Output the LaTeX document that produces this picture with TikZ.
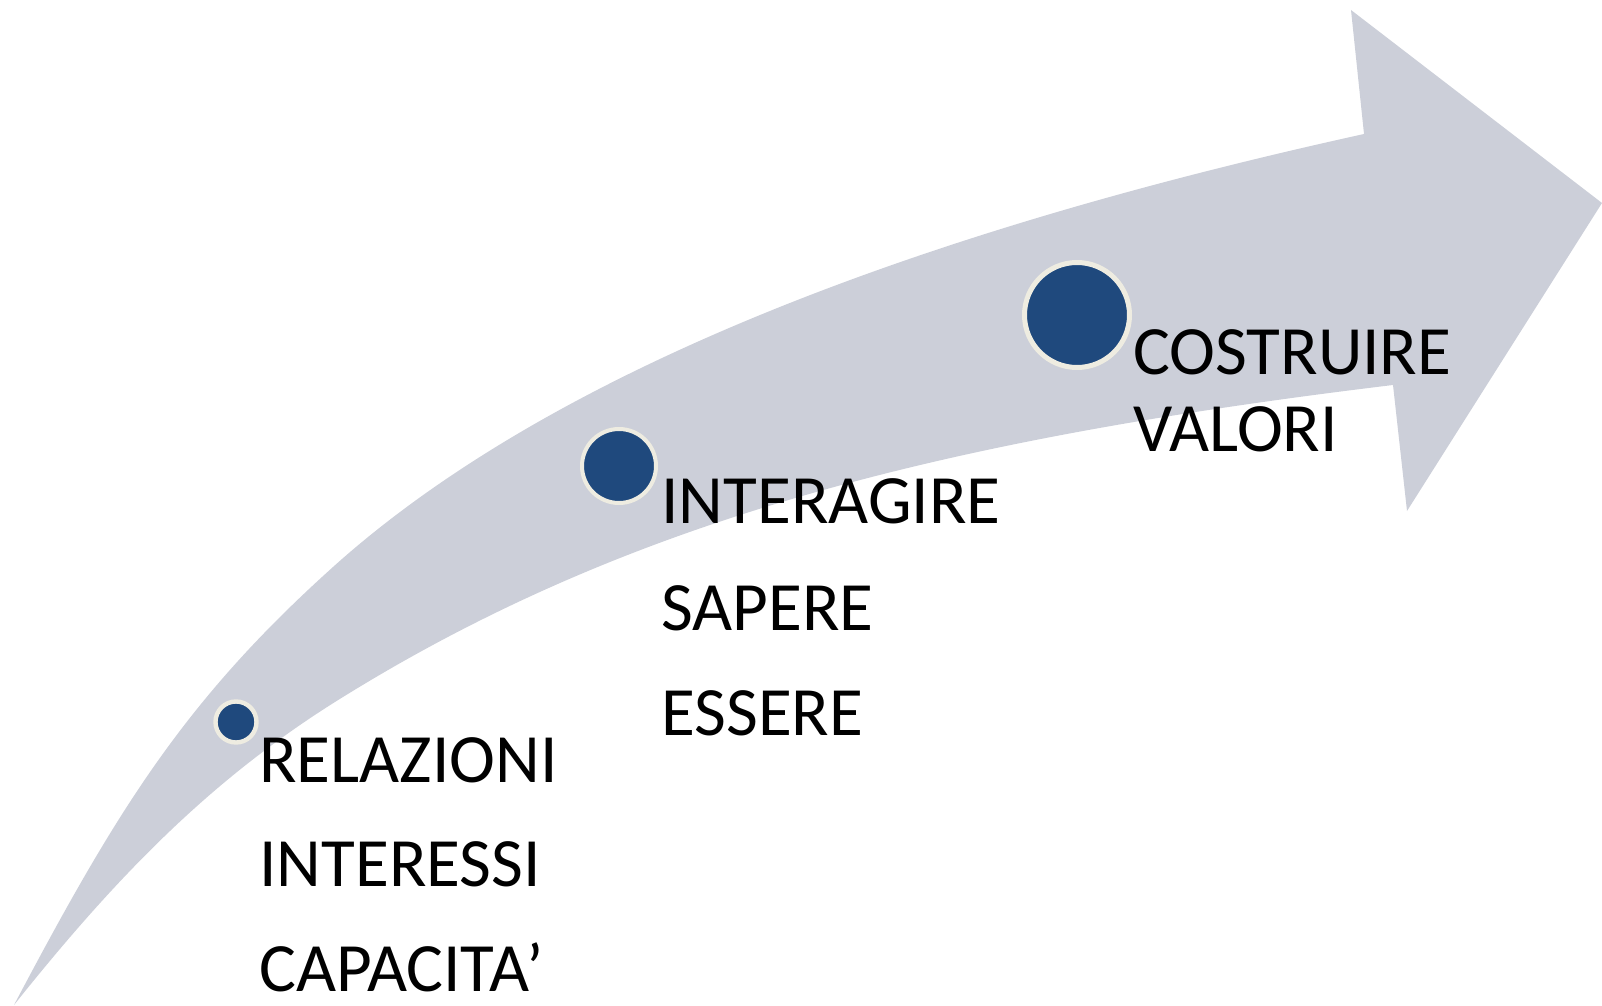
\documentclass[tikz,border=0pt]{standalone}
\usepackage{fontspec}
\setmainfont{Carlito}
\usepackage{xcolor}
\usetikzlibrary{positioning}
\definecolor{arrowgray}{RGB}{204,207,217}
\definecolor{dotblue}{RGB}{31,73,125}
\definecolor{ringcream}{RGB}{238,236,225}
\tikzset{
  dot/.style   = {circle, fill=dotblue, draw=ringcream, inner sep=0pt},
  step text/.style = {anchor=base west, inner sep=0pt,
                   font=\fontsize{34.6}{40}\selectfont},
}

\begin{document}
\begin{tikzpicture}[x=0.5pt, y=-0.5pt]
  \useasboundingbox (0,0) rectangle (1602,1006);
  % curved arrow
  \fill[arrowgray] (14,1005) .. controls (117,810) and (184,701) .. (333,567)
        .. controls (571,353) and (973,220) .. (1364,134)
        -- (1351,10) -- (1602,203) -- (1407,511) -- (1393,385)
        .. controls (946,439) and (632,518) .. (343,697)
        .. controls (215,776) and (120,872) .. (14,1005) -- cycle;
  % dots
  \node[dot, minimum size=20.5pt, line width=2.2pt] (d1) at (236,722) {};
  \node[dot, minimum size=37pt,   line width=2pt]   (d2) at (619,466) {};
  \node[dot, minimum size=52.5pt, line width=2.5pt] (d3) at (1077,315) {};
  % labels
  \node[step text] (relaz)   at (259,782)  {RELAZIONI};
  \node[step text] (inter)   at (259,886)  {INTERESSI};
  \node[step text] (capac)   at (259,991)  {CAPACITA’};
  \node[step text] (interag) at (661,523)  {INTERAGIRE};
  \node[step text] (saper)   at (661,630)  {SAPERE};
  \node[step text] (esser)   at (661,735)  {ESSERE};
  \node[step text] (costr)   at (1133,374) {COSTRUIRE};
  \node[step text] (valor)   at (1133,451) {VALORI};
\end{tikzpicture}
\end{document}
